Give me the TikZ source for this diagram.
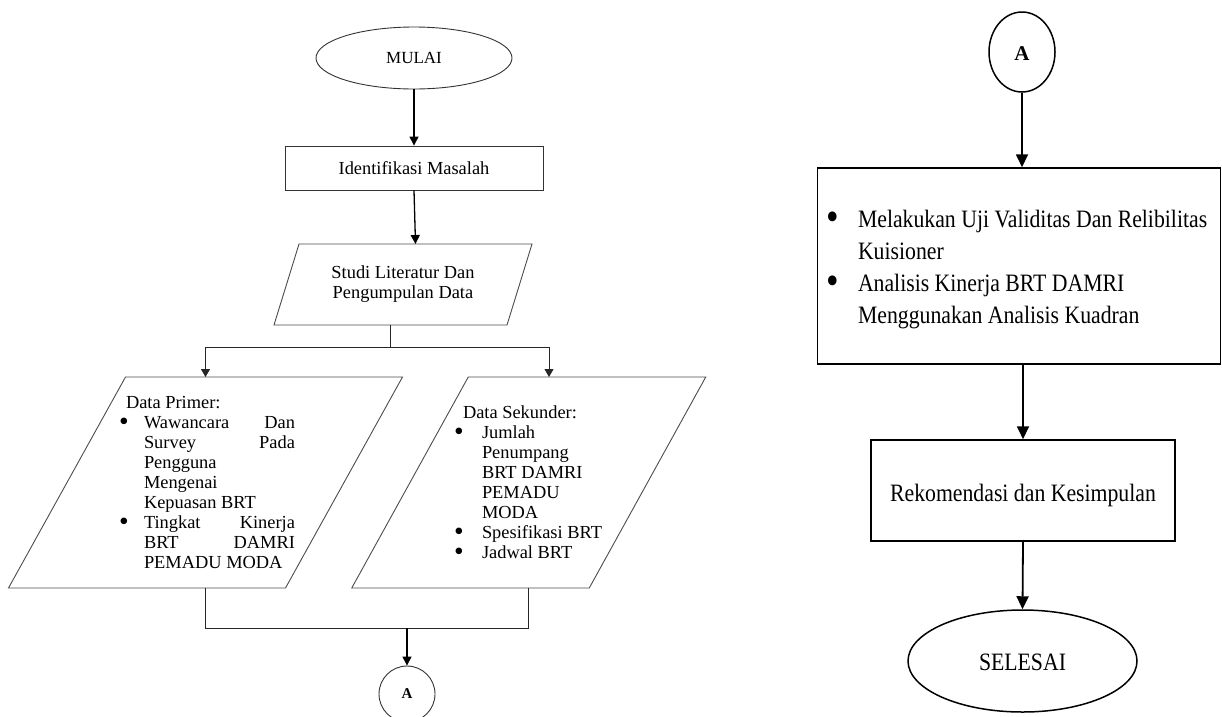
\documentclass[tikz,border=0pt]{standalone}
\usepackage{fontspec}
\usepackage{graphicx}
\setmainfont{Liberation Serif}
\newfontfamily\rfont[FakeStretch=0.87]{Liberation Serif}
\newcommand{\lbul}{\smash{\raisebox{-0.13em}{\scalebox{1.5}{\textbullet}}}}
\newcommand{\rbul}{\smash{\raisebox{-0.15em}{\scalebox{1.65}{\textbullet}}}}
\usetikzlibrary{arrows.meta,shapes.geometric}
\begin{document}
\begin{tikzpicture}[x=1pt,y=-1pt,
  lshape/.style={draw=black!80, line width=0.9pt, inner sep=0pt},
  pshape/.style={draw=black!70, line width=0.9pt, line join=miter},
  rshape/.style={draw=black, line width=1.5pt, inner sep=0pt},
  lline/.style={draw=black!85, line width=0.9pt},
  larrow/.style={draw=black, line width=1.3pt, -{Triangle[length=9pt,width=9pt]}},
  barrow/.style={draw=black!85, line width=0.9pt, -{Triangle[length=8pt,width=9pt]}},
  rarrow/.style={draw=black, line width=1.8pt, -{Triangle[length=13pt,width=12pt]}},
  lfont/.style={font=\fontsize{18.4}{20}\selectfont},
  rtext/.style={font=\rfont\fontsize{25}{32}\selectfont},
  blank/.style={inner sep=0pt, outer sep=0pt}
]
\useasboundingbox (0,0) rectangle (1222,716);

% ---------- left column ----------
\node[ellipse, lshape, minimum width=196pt, minimum height=62pt,
      font=\fontsize{17}{20}\selectfont] (mulai) at (414,58) {MULAI};
\node[rectangle, lshape, minimum width=258pt, minimum height=44pt, lfont] (ident) at (414,168) {Identifikasi Masalah};

\node[blank, minimum width=233pt, minimum height=81pt, align=center, lfont] (studi) at (403,284.5)
  {Studi Literatur Dan\\Pengumpulan Data};
\draw[pshape] ([xshift=12.5pt]studi.north west) -- ([xshift=12.5pt]studi.north east)
  -- ([xshift=-12.5pt]studi.south east) -- ([xshift=-12.5pt]studi.south west) -- cycle;

\node[blank, minimum width=277pt, minimum height=211pt] (prim) at (205.5,482.5) {};
\draw[pshape] ([xshift=58.5pt]prim.north west) -- ([xshift=58.5pt]prim.north east)
  -- ([xshift=-58.5pt]prim.south east) -- ([xshift=-58.5pt]prim.south west) -- cycle;

\node[blank, minimum width=237.5pt, minimum height=211pt] (sek) at (528.75,482.5) {};
\draw[pshape] ([xshift=58.25pt]sek.north west) -- ([xshift=58.25pt]sek.north east)
  -- ([xshift=-58.25pt]sek.south east) -- ([xshift=-58.25pt]sek.south west) -- cycle;

\node[blank, anchor=base west, lfont] (primtext) at (119,408) {\begin{tabular}[t]{@{}l@{}}
\hspace*{7pt}Data Primer:\\
\makebox[25pt][l]{\lbul}\makebox[151pt][s]{Wawancara Dan}\\
\hspace*{25pt}\makebox[151pt][s]{Survey Pada}\\
\hspace*{25pt}Pengguna\\
\hspace*{25pt}Mengenai\\
\hspace*{25pt}Kepuasan BRT\\
\makebox[25pt][l]{\lbul}\makebox[151pt][s]{Tingkat Kinerja}\\
\hspace*{25pt}\makebox[151pt][s]{BRT DAMRI}\\
\hspace*{25pt}PEMADU MODA
\end{tabular}};

\node[blank, anchor=base west, lfont] (sektext) at (454,418) {\begin{tabular}[t]{@{}l@{}}
\hspace*{9pt}Data Sekunder:\\
\makebox[28pt][l]{\lbul}Jumlah\\
\hspace*{28pt}Penumpang\\
\hspace*{28pt}BRT DAMRI\\
\hspace*{28pt}PEMADU\\
\hspace*{28pt}MODA\\
\makebox[28pt][l]{\lbul}Spesifikasi BRT\\
\makebox[28pt][l]{\lbul}Jadwal BRT
\end{tabular}};

\node[ellipse, lshape, minimum width=56pt, minimum height=56pt,
      font=\bfseries\fontsize{15}{18}\selectfont] (al) at (407,694) {A};

\coordinate (split) at (390.5,347);
\coordinate (join) at (407,628);

\draw[larrow] (mulai.south) -- (ident.north);
\draw[larrow] (ident.south) -- ([xshift=12.5pt]studi.north);
\draw[lline] ([xshift=-12.5pt]studi.south) -- (split);
\draw[barrow] (split) -| (prim.north);
\draw[barrow] (split) -| ([xshift=20.25pt]sek.north);
\draw[lline] (prim.south) |- (join) -| (sek.south);
\draw[larrow] (join) -- (al.north);

% ---------- right column ----------
\node[ellipse, rshape, minimum width=66pt, minimum height=80pt,
      font=\bfseries\fontsize{21}{24}\selectfont, text height=17pt, text depth=0pt] (ar) at (1022,52) {A};

\node[rectangle, rshape, minimum width=403pt, minimum height=196pt] (anal) at (1019,266) {};
\node[blank, anchor=base west, rtext] (analtext) at (826,227) {\begin{tabular}[t]{@{}l@{}}
\makebox[32pt][l]{\rbul}Melakukan Uji Validitas Dan Relibilitas\\
\hspace*{32pt}Kuisioner\\
\makebox[32pt][l]{\rbul}Analisis Kinerja BRT DAMRI\\
\hspace*{32pt}Menggunakan Analisis Kuadran
\end{tabular}};

\node[rectangle, rshape, minimum width=304pt, minimum height=101pt, rtext,
      text height=22.4pt, text depth=0pt] (rek) at (1023,490.5) {Rekomendasi dan Kesimpulan};
\node[ellipse, rshape, minimum width=229pt, minimum height=102pt, rtext,
      text height=19.4pt, text depth=0pt] (sel) at (1022.5,661) {SELESAI};

\draw[rarrow] (ar.south) -- (ar.south |- anal.north);
\draw[rarrow] (rek.north |- anal.south) -- (rek.north);
\draw[rarrow] (rek.south) -- (sel.north);
\end{tikzpicture}
\end{document}
